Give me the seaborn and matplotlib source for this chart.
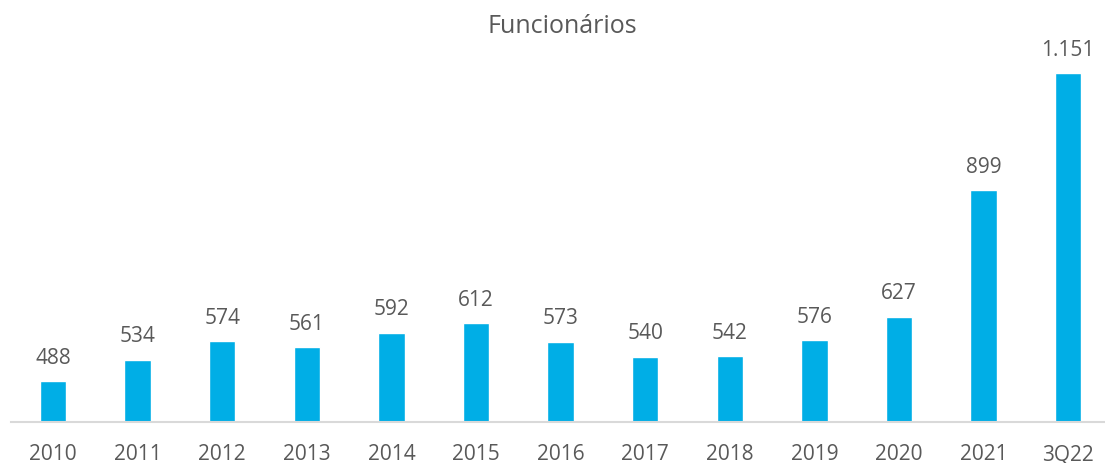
import matplotlib
matplotlib.use("Agg")
import matplotlib.pyplot as plt
import pandas as pd
import seaborn as sns

sns.set_theme(style="white")
plt.rcParams['font.family'] = ['Open Sans', 'DejaVu Sans']

periods = ['2010', '2011', '2012', '2013', '2014', '2015', '2016',
           '2017', '2018', '2019', '2020', '2021', '3Q22']
employees = [488, 534, 574, 561, 592, 612, 573, 540, 542, 576, 627, 899, 1151]
labels = ['488', '534', '574', '561', '592', '612', '573',
          '540', '542', '576', '627', '899', '1.151']

df = pd.DataFrame({'periodo': periods, 'funcionarios': employees})
grey = '#595959'

fig = plt.figure(figsize=(11.05, 4.63), dpi=100)
ax = fig.add_axes([10.7 / 1105, 41 / 463, 1099.8 / 1105, 395 / 463])

sns.barplot(data=df, x='periodo', y='funcionarios', color='#00AEE6',
            width=0.31, saturation=1, ax=ax)
ax.bar_label(ax.containers[0], labels=labels, padding=9,
             fontsize=15, color=grey)

ax.set_xlim(-0.5, 12.5)
ax.set_ylim(400, 1250)
ax.set_xlabel('')
ax.set_ylabel('')
ax.set_yticks([])
for side in ['left', 'right', 'top']:
    ax.spines[side].set_visible(False)
ax.spines['bottom'].set_color('#D9D9D9')
ax.spines['bottom'].set_linewidth(1.5)
ax.tick_params(axis='x', length=0, pad=16, labelsize=15, labelcolor=grey)

fig.text(562 / 1105, 1 - 33 / 463, 'Funcionários', ha='center', va='baseline',
         fontsize=18, color=grey)

fig.savefig('out.png', dpi=100)
